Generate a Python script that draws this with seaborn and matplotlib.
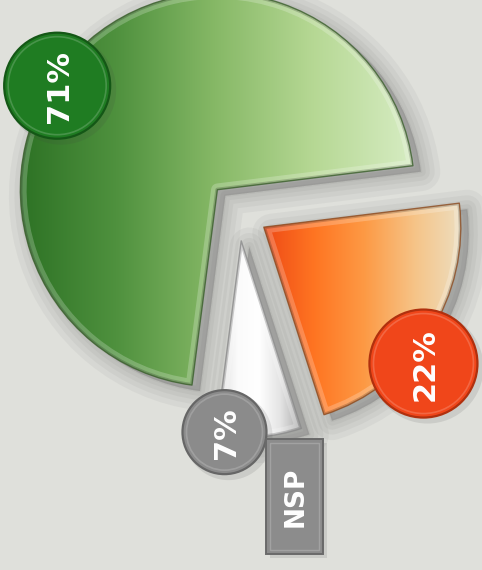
import numpy as np
import matplotlib
matplotlib.use("Agg")
import matplotlib.pyplot as plt
import matplotlib.transforms as mtransforms
from matplotlib.colors import LinearSegmentedColormap
from matplotlib.patches import Circle, PathPatch, FancyBboxPatch
import seaborn as sns

# ---- data -------------------------------------------------------------
values = [71, 7, 22]                 # slice shares, counter-clockwise order
slice_tags = ["", "NSP", ""]          # extra tag drawn under a slice badge

# ---- style ------------------------------------------------------------
W, H = 482, 570
BG = "#dfe0db"
slice_ramps = [
    ["#2c7124", "#4f913e", "#86b866", "#b6d894", "#d6ecc2"],
    ["#dcdcdc", "#fbfbfb", "#ffffff", "#e4e4e4", "#a9a9a9"],
    ["#ee4a16", "#ff7522", "#fd9a45", "#f6c488", "#ece0c4"],
]
slice_edges = ["#3a5e2c", "#8a8a8a", "#8a4a20"]
badge_colors = ["#1f7c22", "#8b8b8b", "#f0461a"]
badge_edges = ["#145716", "#666666", "#b0300e"]
# badge placement: polar offset (deg, px) from each slice's own centre
badge_polar = [(147, 191), (-95, 192), (-40.5, 210)]
badge_radius = [53, 42, 54]

sns.set_theme(style="white")
plt.rcParams["font.family"] = ["DejaVu Sans"]

fig = plt.figure(figsize=(W / 100, H / 100), dpi=100)
fig.patch.set_facecolor(BG)
ax = fig.add_axes([0, 0, 1, 1])
ax.set_facecolor(BG)

cx, cy = 238.5, H - 211
R = 197
wedges, _ = ax.pie(values, radius=R, center=(cx, cy), startangle=7,
                   counterclock=True, explode=[30] * len(values), frame=True,
                   wedgeprops=dict(linewidth=0, zorder=3))


def soft_shadow(path, dx, dy, widths, alpha, z):
    tr = ax.transData + mtransforms.Affine2D().translate(dx, dy)
    for lw in widths:
        ax.add_patch(PathPatch(path, fc="#4a4a4a", ec="#4a4a4a", lw=lw,
                               alpha=alpha, transform=tr, zorder=z,
                               joinstyle="round"))


# slices: shadow, gradient body, bevel and outline
for w, ramp, edge in zip(wedges, slice_ramps, slice_edges):
    path = w.get_path()
    soft_shadow(path, 8, -6, [28, 20, 13, 7, 2], 0.055, 1)
    w.set_facecolor("none")
    verts = path.vertices
    x0, x1 = verts[:, 0].min(), verts[:, 0].max()
    y0, y1 = verts[:, 1].min(), verts[:, 1].max()
    cmap = LinearSegmentedColormap.from_list("ramp", ramp)
    grad = np.linspace(0, 1, 256)[None, :]
    im = ax.imshow(grad, extent=(x0, x1, y0, y1), cmap=cmap, aspect="auto",
                   interpolation="bicubic", zorder=2, origin="lower")
    im.set_clip_path(w)
    # inner bevel: light band along the rim, then darker shade line
    hi = PathPatch(path, fc="none", ec="white", lw=9, alpha=0.22, zorder=3,
                   joinstyle="round")
    ax.add_patch(hi)
    hi.set_clip_path(w)
    sh = PathPatch(path, fc="none", ec="black", lw=3, alpha=0.18, zorder=3,
                   joinstyle="round")
    ax.add_patch(sh)
    sh.set_clip_path(w)
    ax.add_patch(PathPatch(path, fc="none", ec=edge, lw=1.0, alpha=0.8,
                           zorder=4, joinstyle="round"))

# value badges
for i, (w, v) in enumerate(zip(wedges, values)):
    ang, dist = badge_polar[i]
    bx = w.center[0] + dist * np.cos(np.radians(ang))
    by = w.center[1] + dist * np.sin(np.radians(ang))
    r = badge_radius[i]
    shadow = Circle((bx + 4, by - 4), r + 2, fc="#404040", ec="none",
                    alpha=0.12, zorder=5)
    ax.add_patch(shadow)
    ax.add_patch(Circle((bx, by), r, fc=badge_colors[i], ec=badge_edges[i],
                        lw=1.6, zorder=6))
    ring = Circle((bx, by), r - 4, fc="none", ec="white", lw=1.2, alpha=0.18,
                  zorder=6)
    ax.add_patch(ring)
    ax.text(bx + 2, by - 1, f"{v}%", rotation=90, ha="center", va="center",
            color="white", fontsize=22, fontweight="bold", zorder=7)

    if slice_tags[i]:
        # tag box hanging to the lower right of the badge
        left, bottom, bw, bh = bx + 42, by - 122, 57, 115
        ax.add_patch(FancyBboxPatch((left + 4, bottom - 4), bw, bh,
                                    boxstyle="square,pad=0", fc="#404040",
                                    ec="none", alpha=0.12, zorder=5))
        ax.add_patch(FancyBboxPatch((left, bottom), bw, bh,
                                    boxstyle="square,pad=0", fc="#8c8c8c",
                                    ec="#6a6a6a", lw=1.4, zorder=6))
        ax.add_patch(FancyBboxPatch((left + 4, bottom + 4), bw - 8, bh - 8,
                                    boxstyle="square,pad=0", fc="none",
                                    ec="white", lw=1.0, alpha=0.2, zorder=6))
        ax.text(left + bw / 2 + 1, bottom + bh / 2, slice_tags[i],
                rotation=90, ha="center", va="center", color="white",
                fontsize=19, fontweight="bold", zorder=7)

ax.set_xlim(0, W)
ax.set_ylim(0, H)
ax.set_aspect("equal")
ax.axis("off")

fig.savefig("out.png", dpi=100, facecolor=BG)
